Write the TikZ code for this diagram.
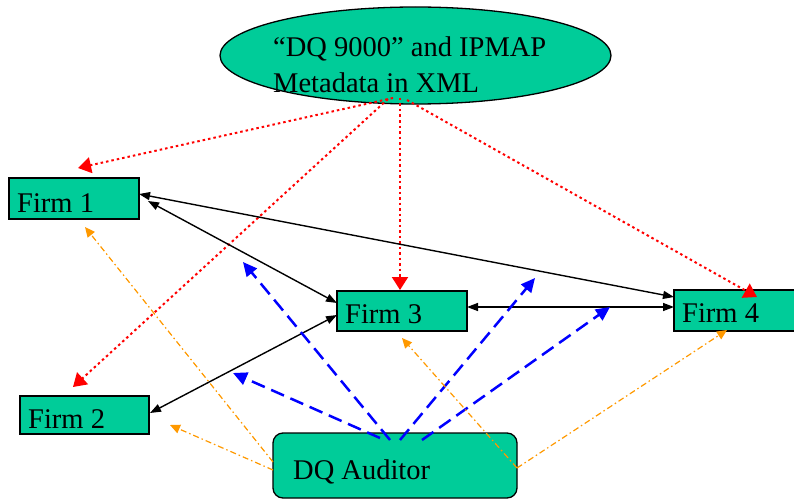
\documentclass[tikz,border=0pt]{standalone}
\usepackage{fontspec}
\setmainfont{Liberation Serif}
\usetikzlibrary{arrows.meta,shapes.geometric}
\definecolor{boxfill}{RGB}{0,204,153}
\definecolor{dqred}{RGB}{255,0,0}
\definecolor{dqblue}{RGB}{0,0,255}
\definecolor{dqorange}{RGB}{255,153,0}
\begin{document}
\begin{tikzpicture}[x=1pt,y=-1pt,
  shapebox/.style={draw=black, line width=1.3pt, fill=boxfill, inner sep=0pt},
  lbl/.style={anchor=base west, inner sep=0pt, font=\fontsize{28.5}{34}\selectfont},
  twoway/.style={draw=black, line width=1.4pt, {Triangle[length=11pt,width=8pt]}-{Triangle[length=11pt,width=8pt]}},
  metaline/.style={draw=dqred, line width=2pt, dash pattern=on 2.5pt off 3pt, -{Triangle[length=13pt,width=16pt]}},
  auditline/.style={draw=dqblue, line width=2.5pt, dash pattern=on 14pt off 7pt, -{Triangle[length=14pt,width=13pt]}},
  checkline/.style={draw=dqorange, line width=1.2pt, dash pattern=on 6pt off 3pt on 1.5pt off 3pt, -{Triangle[length=10pt,width=9pt]}}
]
\useasboundingbox (0,0) rectangle (794,500);

% shapes
\node[shapebox, ellipse, minimum width=391pt, minimum height=97pt] (xml) at (415.5,55.5) {};
\node[shapebox, minimum width=130pt, minimum height=41pt] (f1) at (74,198.5) {};
\node[shapebox, minimum width=129pt, minimum height=38pt] (f2) at (84.5,415) {};
\node[shapebox, minimum width=130pt, minimum height=40pt] (f3) at (402,311) {};
\node[shapebox, minimum width=126pt, minimum height=41pt] (f4) at (737,310.5) {};
\node[shapebox, rounded corners=10pt, minimum width=244pt, minimum height=65pt] (dq) at (395,465.5) {};

% connector end points
\coordinate (xs1) at (393,98);
\coordinate (xs2) at (388,99);
\coordinate (xs3) at (400,98);
\coordinate (xs4) at (407,100);
\coordinate (r1) at (78,168);
\coordinate (r2) at (73,387);
\coordinate (r3) at (400,290);
\coordinate (r4) at (757,297);

\coordinate (k1a) at (139,194);
\coordinate (k1b) at (674,297);
\coordinate (k2a) at (148,201);
\coordinate (k2b) at (337,303);
\coordinate (k3a) at (150,413);
\coordinate (k3b) at (337,315);
\coordinate (k4a) at (467,307);
\coordinate (k4b) at (674,307);

\coordinate (bs1) at (380,438);
\coordinate (bs2) at (390,440);
\coordinate (bs3) at (400,440);
\coordinate (bs4) at (422,440);
\coordinate (bt1) at (233,373);
\coordinate (bt2) at (243,262);
\coordinate (bt3) at (535,278);
\coordinate (bt4) at (610,307);

\coordinate (os1) at (273,462);
\coordinate (os2) at (273,470);
\coordinate (os3) at (517,468);
\coordinate (ot1) at (85,227);
\coordinate (ot2) at (170,425);
\coordinate (ot3) at (402,338);
\coordinate (ot4) at (727,330);

% metadata distribution
\draw[metaline] (xs1) -- (r1);
\draw[metaline] (xs2) -- (r2);
\draw[metaline] (xs3) -- (r3);
\draw[metaline] (xs4) -- (r4);

% firm exchanges
\draw[twoway] (k1a) -- (k1b);
\draw[twoway] (k2a) -- (k2b);
\draw[twoway] (k3a) -- (k3b);
\draw[twoway] (k4a) -- (k4b);

% auditor
\draw[auditline] (bs1) -- (bt1);
\draw[auditline] (bs2) -- (bt2);
\draw[auditline] (bs3) -- (bt3);
\draw[auditline] (bs4) -- (bt4);

\draw[checkline] (os1) -- (ot1);
\draw[checkline] (os2) -- (ot2);
\draw[checkline] (os3) -- (ot3);
\draw[checkline] (os3) -- (ot4);

% texts
\node[lbl] (xmlA) at (273,57) {“DQ 9000” and IPMAP};
\node[lbl] (xmlB) at (273,93) {Metadata in XML};
\node[lbl] (f1t) at (17,212) {Firm 1};
\node[lbl] (f2t) at (28,428) {Firm 2};
\node[lbl] (f3t) at (345,323) {Firm 3};
\node[lbl] (f4t) at (682,322) {Firm 4};
\node[lbl] (dqt) at (293,479) {DQ Auditor};
\end{tikzpicture}
\end{document}
